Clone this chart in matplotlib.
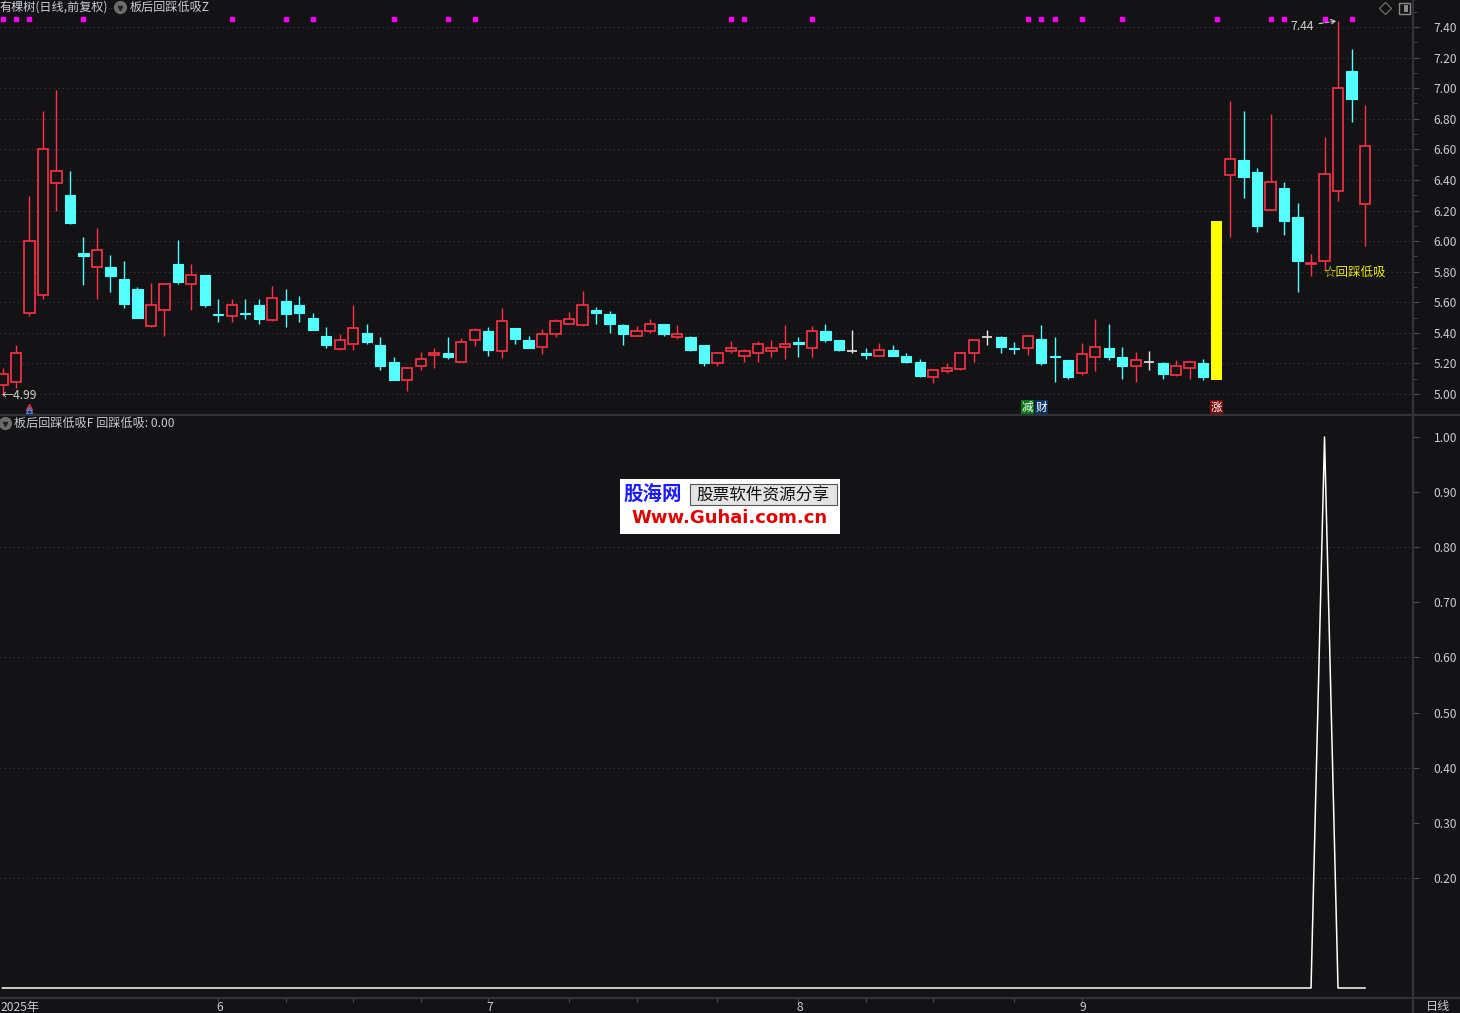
import matplotlib
matplotlib.use('Agg')
import matplotlib.pyplot as plt
import matplotlib.transforms as mtransforms
from matplotlib.lines import Line2D
from matplotlib.patches import Rectangle
import numpy as np

plt.rcParams['font.family'] = ['Noto Sans CJK SC', 'DejaVu Sans']

# 日K数据 (前复权)
opens = [5.057, 5.076, 5.528, 5.645, 6.378, 6.30, 5.922, 5.828, 5.83, 5.752,
         5.687, 5.447, 5.547, 5.85, 5.717, 5.778, 5.523, 5.508, 5.53, 5.582,
         5.486, 5.606, 5.582, 5.497, 5.379, 5.296, 5.325, 5.40, 5.32, 5.209,
         5.089, 5.181, 5.257, 5.266, 5.207, 5.351, 5.412, 5.279, 5.432, 5.353,
         5.305, 5.39, 5.456, 5.449, 5.547, 5.523, 5.449, 5.377, 5.41, 5.456,
         5.37, 5.373, 5.32, 5.20, 5.279, 5.246, 5.266, 5.283, 5.305, 5.34,
         5.299, 5.41, 5.351, 5.283, 5.268, 5.246, 5.286, 5.248, 5.209, 5.113,
         5.148, 5.166, 5.266, 5.37, 5.373, 5.299, 5.299, 5.36, 5.249, 5.222,
         5.135, 5.24, 5.30, 5.242, 5.181, 5.207, 5.20, 5.126, 5.168, 5.203,
         5.094, 6.43, 6.53, 6.452, 6.206, 6.347, 6.158, 5.852, 5.868, 6.325,
         7.113, 6.24]
highs = [5.17, 5.32, 6.295, 6.85, 6.99, 6.458, 6.027, 6.086, 5.909, 5.87,
         5.70, 5.726, 5.72, 6.007, 5.85, 5.778, 5.619, 5.62, 5.62, 5.62,
         5.706, 5.687, 5.64, 5.53, 5.438, 5.392, 5.582, 5.458, 5.373, 5.242,
         5.179, 5.275, 5.30, 5.373, 5.364, 5.432, 5.438, 5.562, 5.432, 5.38,
         5.425, 5.49, 5.538, 5.674, 5.569, 5.543, 5.46, 5.445, 5.488, 5.456,
         5.449, 5.38, 5.32, 5.273, 5.347, 5.292, 5.347, 5.351, 5.451, 5.37,
         5.445, 5.458, 5.351, 5.416, 5.299, 5.334, 5.318, 5.268, 5.227, 5.155,
         5.203, 5.275, 5.351, 5.419, 5.379, 5.34, 5.386, 5.451, 5.373, 5.222,
         5.334, 5.49, 5.458, 5.307, 5.275, 5.281, 5.209, 5.22, 5.207, 5.227,
         6.131, 6.916, 6.851, 6.476, 6.831, 6.387, 6.249, 5.916, 6.681, 7.44,
         7.256, 6.89]
lows = [4.99, 5.04, 5.51, 5.62, 6.20, 6.11, 5.715, 5.624, 5.669, 5.565,
        5.50, 5.44, 5.38, 5.72, 5.549, 5.567, 5.473, 5.473, 5.49, 5.46,
        5.48, 5.44, 5.473, 5.42, 5.30, 5.29, 5.29, 5.33, 5.16, 5.094,
        5.022, 5.16, 5.172, 5.231, 5.207, 5.312, 5.25, 5.233, 5.329, 5.303,
        5.264, 5.375, 5.456, 5.443, 5.46, 5.40, 5.323, 5.377, 5.397, 5.38,
        5.362, 5.283, 5.185, 5.185, 5.27, 5.207, 5.211, 5.244, 5.231, 5.244,
        5.244, 5.342, 5.283, 5.27, 5.231, 5.246, 5.246, 5.203, 5.113, 5.074,
        5.135, 5.157, 5.211, 5.323, 5.27, 5.264, 5.253, 5.192, 5.08, 5.10,
        5.122, 5.153, 5.225, 5.10, 5.08, 5.159, 5.10, 5.12, 5.10, 5.094,
        5.094, 6.029, 6.284, 6.062, 6.206, 6.042, 5.667, 5.772, 5.811, 6.264,
        6.781, 5.97]
closes = [5.13, 5.266, 6.00, 6.60, 6.456, 6.12, 5.905, 5.94, 5.774, 5.591,
          5.50, 5.58, 5.72, 5.735, 5.776, 5.584, 5.515, 5.58, 5.525, 5.493,
          5.626, 5.525, 5.532, 5.42, 5.323, 5.351, 5.43, 5.342, 5.185, 5.094,
          5.17, 5.227, 5.266, 5.244, 5.338, 5.416, 5.29, 5.475, 5.362, 5.303,
          5.39, 5.475, 5.488, 5.58, 5.532, 5.46, 5.395, 5.41, 5.456, 5.395,
          5.39, 5.29, 5.205, 5.266, 5.299, 5.279, 5.327, 5.299, 5.327, 5.329,
          5.41, 5.355, 5.29, 5.283, 5.253, 5.286, 5.25, 5.211, 5.12, 5.155,
          5.168, 5.268, 5.351, 5.37, 5.31, 5.292, 5.379, 5.205, 5.244, 5.111,
          5.262, 5.305, 5.244, 5.185, 5.22, 5.207, 5.133, 5.181, 5.207, 5.113,
          6.131, 6.535, 6.419, 6.099, 6.384, 6.131, 5.872, 5.856, 6.439, 6.999,
          6.932, 6.62]

limit_up_days = [90]       # 涨停板 (黄色柱)
signal_days = [98]         # 回踩低吸信号
dot_days = [0, 1, 2, 6, 17, 21, 23, 29, 33, 35, 54, 55, 60, 76, 77, 78, 80,
            83, 90, 94, 95, 98, 100]
week_ticks = [16, 21, 26, 31, 36, 42, 47, 53, 59, 64, 69, 75, 80]
month_ticks = [0, 16, 36, 59, 80]
month_labels = ['2025年', '6', '7', '8', '9']
price_ticks = [5.0, 5.2, 5.4, 5.6, 5.8, 6.0, 6.2, 6.4, 6.6, 6.8, 7.0, 7.2, 7.4]
sig_ticks = [0.2, 0.3, 0.4, 0.5, 0.6, 0.7, 0.8, 0.9, 1.0]

BG = '#131214'
RED = '#ff3246'
CYAN = '#54ffff'
GRID = '#3c3c3e'
TXT = '#c8ccd6'
SEP = '#30333a'

W, H = 1460, 1013
fig = plt.figure(figsize=(W / 100, H / 100), dpi=100, facecolor=BG)
ax1 = fig.add_axes([0, 1 - 414 / H, 1413 / W, 414 / H], facecolor=BG)
ax2 = fig.add_axes([0, 15 / H, 1413 / W, 582 / H], facecolor=BG)

n = len(opens)
x = np.arange(n)
bw = 0.76

# 网格
for p in price_ticks:
    ax1.axhline(p, color=GRID, ls=(0, (1, 3)), lw=0.8, zorder=0)
for v in [0.2, 0.4, 0.6, 0.8]:
    ax2.axhline(v, color=GRID, ls=(0, (1, 3)), lw=0.8, zorder=0)

# K线
for i in range(n):
    o, h, l, c = opens[i], highs[i], lows[i], closes[i]
    if i in limit_up_days:
        ax1.bar(i, c - o, bottom=o, width=0.82, color='#ffff00', zorder=3)
    elif c > o:
        ax1.vlines(i, c, h, color=RED, lw=1.0, zorder=2)
        ax1.vlines(i, l, o, color=RED, lw=1.0, zorder=2)
        ax1.bar(i, c - o, bottom=o, width=bw, facecolor=BG, edgecolor=RED,
                linewidth=1.2, zorder=3)
    elif c < o:
        ax1.vlines(i, l, h, color=CYAN, lw=1.0, zorder=2)
        ax1.bar(i, o - c, bottom=c, width=bw, facecolor=CYAN, edgecolor=CYAN,
                linewidth=0.8, zorder=3)
    else:
        ax1.vlines(i, l, h, color='#e6e6e6', lw=1.0, zorder=2)
        ax1.hlines(o, i - bw / 2, i + bw / 2, color='#e6e6e6', lw=1.2, zorder=3)

# 顶部品红点
top_tr = mtransforms.blended_transform_factory(ax1.transData, ax1.transAxes)
ax1.plot(dot_days, [0.954] * len(dot_days), 's', ms=2.6, color='#ff00ff',
         transform=top_tr, clip_on=False, zorder=5)

# 最高最低标注
ax1.annotate('7.44', xy=(99 - 0.1, highs[99]), xytext=(97.2, 7.405),
             ha='right', va='center', fontsize=8.7, color='#d0d0d0',
             arrowprops=dict(arrowstyle='->', ls='--', color='#d0d0d0', lw=0.8,
                             shrinkA=2, shrinkB=0))
ax1.text(-0.1, lows[0], '←4.99', ha='left', va='center', fontsize=8.7,
         color='#d0d0d0', zorder=6)

# 小箭头
ax1.plot([2], [4.917], '^', ms=4.5, mfc='none', mec='#ff3030', mew=1.0, zorder=5)
ax1.plot([2], [4.893], '^', ms=4.5, mfc='none', mec='#3090ff', mew=1.0, zorder=5)

# 文字标记
ax1.text(76, 4.915, '减', ha='center', va='center', fontsize=8.3, color='white',
         bbox=dict(boxstyle='square,pad=0.05', fc='#0b7a16', ec='none'))
ax1.text(77, 4.915, '财', ha='center', va='center', fontsize=8.3, color='white',
         bbox=dict(boxstyle='square,pad=0.05', fc='#0a3464', ec='none'))
ax1.text(90, 4.915, '涨', ha='center', va='center', fontsize=8.3, color='white',
         bbox=dict(boxstyle='square,pad=0.05', fc='#7a0a0a', ec='none'))
ax1.text(signal_days[0] - 0.05, 5.80, '☆回踩低吸', ha='left', va='center',
         fontsize=9, color='#e8e800', zorder=6)

ax1.set_xlim(-2.5 / 13.49, (1413 - 2.5) / 13.49)
ax1.set_ylim(5 - 20 / 152.9, 5 + 394 / 152.9)

# 信号副图
sig = np.zeros(n)
for d in signal_days:
    sig[d] = 1.0
ax2.plot(x, sig, color='white', lw=1.1, zorder=3)
ax2.set_xlim(ax1.get_xlim())
ax2.set_ylim(-10 / 551, 572 / 551)

for ax, ticks in [(ax1, price_ticks), (ax2, sig_ticks)]:
    ax.yaxis.tick_right()
    ax.set_yticks(ticks)
    ax.set_yticklabels(['%.2f' % t for t in ticks])
    ax.tick_params(axis='y', which='both', direction='out', length=4,
                   color='#4a4e56', labelcolor=TXT, labelsize=8.7, pad=11)
    for s in ['top', 'left', 'bottom']:
        ax.spines[s].set_visible(False)
    ax.spines['right'].set_color(SEP)
    ax.spines['right'].set_linewidth(1.6)
ax1.set_yticks(np.arange(5.1, 7.5, 0.2), minor=True)
ax1.tick_params(axis='y', which='minor', length=3)
ax1.set_xticks([])

ax2.set_xticks(week_ticks)
ax2.tick_params(axis='x', direction='out', length=3, color='#4a4e56',
                labelbottom=False)
bot_tr = mtransforms.blended_transform_factory(ax2.transData, ax2.transAxes)
for t, lab in zip(month_ticks, month_labels):
    ax2.text(t - 0.15, -0.016, lab, transform=bot_tr, ha='left', va='center',
             fontsize=8.7, color=TXT, clip_on=False)
fig.text(1426 / W, 1 - 1006 / H, '日线', ha='left', va='center', fontsize=8.7,
         color=TXT)

# 分隔线
fig.add_artist(Line2D([0, 1], [1 - 415 / H] * 2, color=SEP, lw=1.6))
fig.add_artist(Line2D([0, 1], [1 - 998 / H] * 2, color=SEP, lw=1.6))
fig.add_artist(Line2D([1413 / W] * 2, [0, 15 / H], color=SEP, lw=1.6))

# 标题
fig.text(0, 1 - 7 / H, '有棵树(日线,前复权)', ha='left', va='center',
         fontsize=8.7, color=TXT)
fig.text(130 / W, 1 - 7 / H, '板后回踩低吸Z', ha='left', va='center',
         fontsize=8.7, color=TXT)
fig.text(14 / W, 1 - 423 / H, '板后回踩低吸F 回踩低吸: 0.00', ha='left',
         va='center', fontsize=8.7, color=TXT)
for cx, cy in [(120, 7), (5, 423)]:
    fig.add_artist(Line2D([cx / W], [1 - cy / H], marker='o', ms=8.5,
                          color='#6c6c6c', ls='none'))
    fig.add_artist(Line2D([cx / W], [1 - cy / H - 0.0008], marker='v', ms=3,
                          color='#222222', ls='none'))
fig.add_artist(Line2D([1385 / W], [1 - 8 / H], marker='D', ms=6, mfc='none',
                      mec='#7a7a7a', mew=0.8, ls='none'))
fig.add_artist(Rectangle((1399 / W, 1 - 14 / H), 11 / W, 11 / H,
                         transform=fig.transFigure, fc='none', ec='#8a8a8a',
                         lw=1.0))
fig.add_artist(Rectangle((1404 / W, 1 - 12 / H), 4 / W, 7 / H,
                         transform=fig.transFigure, fc='#8a8a8a', ec='none'))

# 水印
fig.add_artist(Rectangle((620 / W, 1 - 534 / H), 220 / W, 55 / H,
                         transform=fig.transFigure, fc='white', ec='none',
                         zorder=10))
fig.add_artist(Rectangle((690 / W, 1 - 505 / H), 147 / W, 21 / H,
                         transform=fig.transFigure, fc='#e4e4e4', ec='#555555',
                         lw=0.8, zorder=11))
fig.text(653 / W, 1 - 495 / H, '股海网', ha='center', va='center', fontsize=14,
         fontweight='bold', color='#1a1aff', zorder=12)
fig.text(763 / W, 1 - 495 / H, '股票软件资源分享', ha='center', va='center',
         fontsize=12, color='#111111', zorder=12)
fig.text(730 / W, 1 - 518 / H, 'Www.Guhai.com.cn', ha='center', va='center',
         fontsize=13, fontweight='bold', color='#e00000', zorder=12,
         family=['DejaVu Sans'])

fig.savefig('out.png', dpi=100, facecolor=BG)
